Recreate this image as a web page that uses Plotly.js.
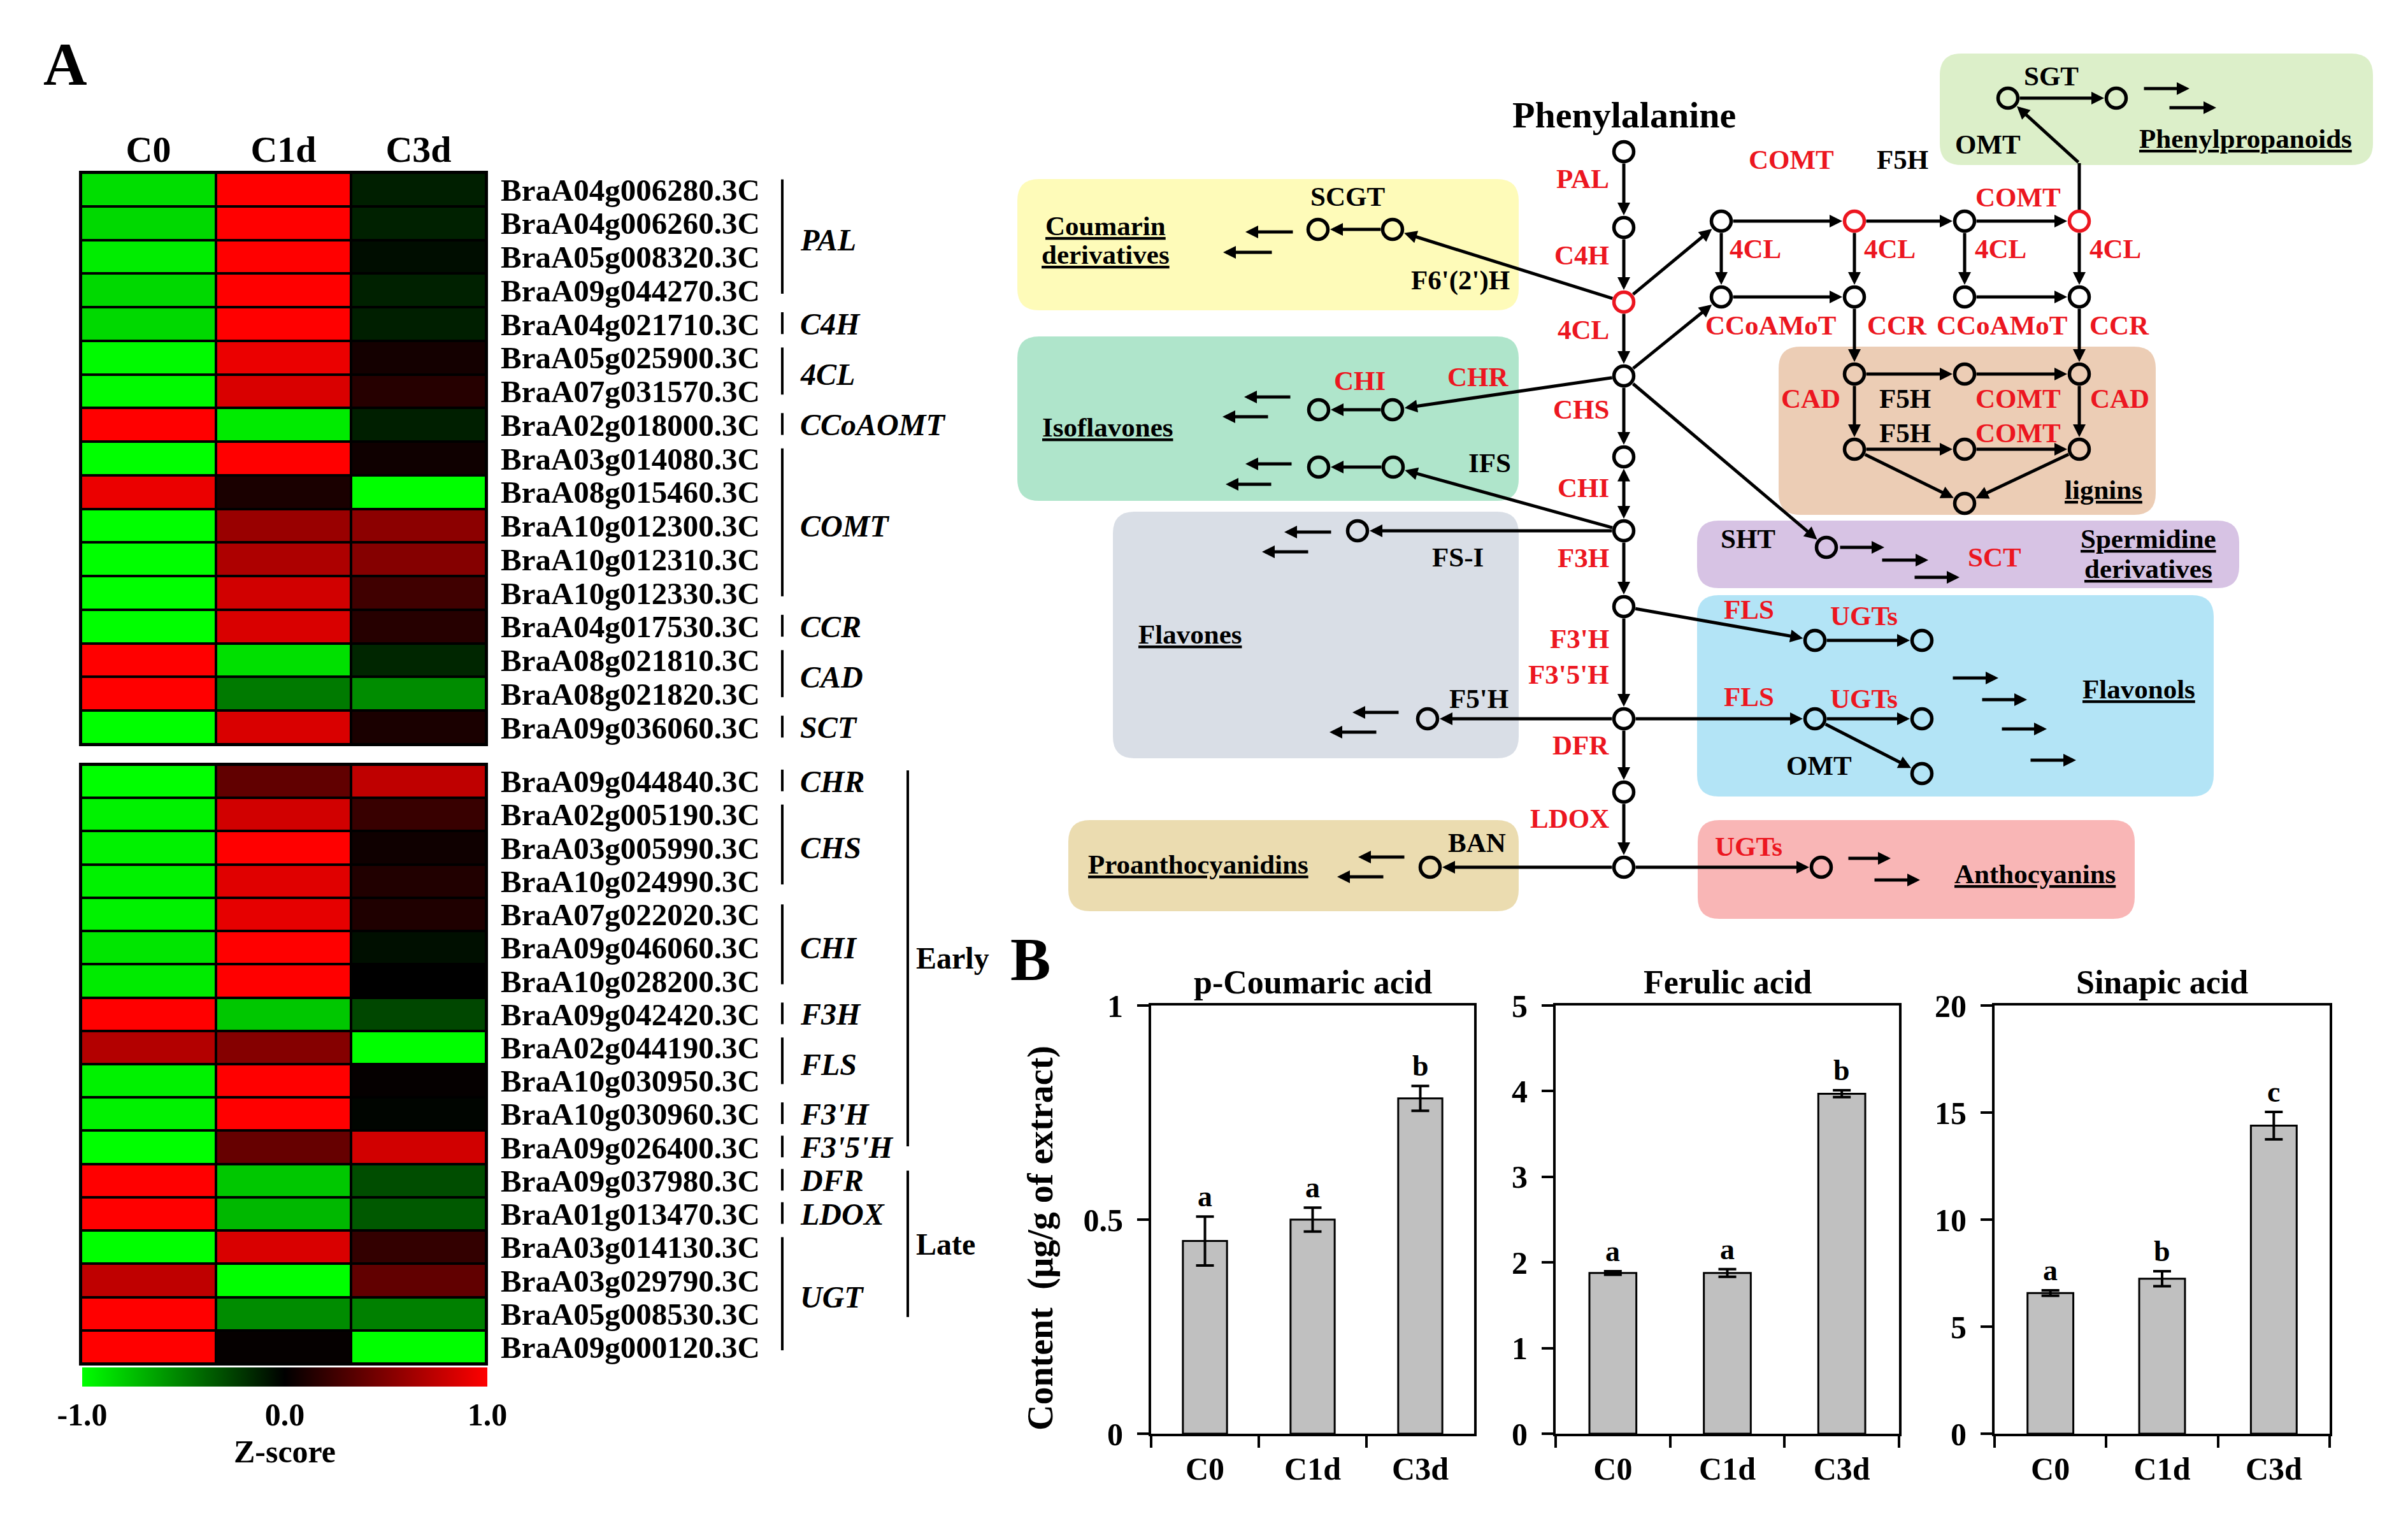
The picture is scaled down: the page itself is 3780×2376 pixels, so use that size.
<!DOCTYPE html>
<html><head><meta charset="utf-8">
<script src="https://cdn.plot.ly/plotly-3.0.1.min.js"></script>
<style>html,body{margin:0;padding:0;background:#fff}#chart{width:3780px;height:2376px}</style>
</head><body><div id="chart"></div>
<script>
// ---------------- DATA ----------------
const heatColumns = ['C0', 'C1d', 'C3d'];
const genesTop = ['BraA04g006280.3C','BraA04g006260.3C','BraA05g008320.3C','BraA09g044270.3C','BraA04g021710.3C','BraA05g025900.3C','BraA07g031570.3C','BraA02g018000.3C','BraA03g014080.3C','BraA08g015460.3C','BraA10g012300.3C','BraA10g012310.3C','BraA10g012330.3C','BraA04g017530.3C','BraA08g021810.3C','BraA08g021820.3C','BraA09g036060.3C'];
const zTop = [
  [-0.87, 1.0, -0.12], [-0.85, 1.0, -0.13], [-0.93, 1.0, -0.05], [-0.85, 1.0, -0.13],
  [-0.85, 1.0, -0.12], [-0.98, 0.92, 0.08], [-0.98, 0.85, 0.15], [1.0, -0.92, -0.12],
  [-1.0, 1.0, 0.06], [0.92, 0.1, -1.0], [-1.0, 0.6, 0.55], [-1.0, 0.68, 0.52],
  [-1.0, 0.82, 0.25], [-1.0, 0.85, 0.15], [1.0, -0.88, -0.15], [1.0, -0.48, -0.55],
  [-1.0, 0.85, 0.1]
];
const genesBottom = ['BraA09g044840.3C','BraA02g005190.3C','BraA03g005990.3C','BraA10g024990.3C','BraA07g022020.3C','BraA09g046060.3C','BraA10g028200.3C','BraA09g042420.3C','BraA02g044190.3C','BraA10g030950.3C','BraA10g030960.3C','BraA09g026400.3C','BraA09g037980.3C','BraA01g013470.3C','BraA03g014130.3C','BraA03g029790.3C','BraA05g008530.3C','BraA09g000120.3C'];
const zBottom = [
  [-1.0, 0.38, 0.75], [-0.95, 0.82, 0.22], [-0.95, 1.0, 0.06], [-0.95, 0.88, 0.13],
  [-0.95, 0.9, 0.12], [-0.9, 1.0, -0.06], [-0.92, 1.0, 0.0], [1.0, -0.78, -0.28],
  [0.7, 0.52, -1.0], [-0.95, 1.0, 0.02], [-0.95, 1.0, -0.02], [-1.0, 0.4, 0.82],
  [1.0, -0.78, -0.3], [1.0, -0.72, -0.35], [-1.0, 0.85, 0.2], [0.75, -1.0, 0.38],
  [1.0, -0.55, -0.5], [1.0, 0.02, -1.0]
];
const groupNamesTop = ['PAL','C4H','4CL','CCoAOMT','COMT','CCR','CAD','SCT'];
const groupSizesTop = [4,1,2,1,5,1,2,1];
const groupNamesBottom = ['CHR','CHS','CHI','F3H','FLS',"F3'H","F3'5'H",'DFR','LDOX','UGT'];
const groupSizesBottom = [1,3,3,1,2,1,1,1,1,4];
const stageNames = ['Early','Late'];
const stageSpans = [[-0.33, 10.97],[11.7, 16.1]];
const zTickVals = [-1, 0, 1];
const zTickText = ['-1.0', '0.0', '1.0'];

const barCats = ['C0','C1d','C3d'];
const coumaric = [0.45, 0.50, 0.783];
const coumaricErr = [0.057, 0.028, 0.029];
const coumaricSig = ['a','a','b'];
const ferulic = [1.877, 1.877, 3.97];
const ferulicErr = [0.02, 0.045, 0.04];
const ferulicSig = ['a','a','b'];
const sinapic = [6.57, 7.24, 14.39];
const sinapicErr = [0.13, 0.35, 0.64];
const sinapicSig = ['a','b','c'];
const barTitles = ['p-Coumaric acid','Ferulic acid','Sinapic acid'];

// ---------------- DIAGRAM (schematic, pixel space) ----------------
const nodeNames=['m1','m2','m3','m4','m5','m6','m7','m8','m9','m10','gA1','gA2','gA3','gA4','gB1','gB2','gB3','gB4','l1','l2','l3','l4','l5','l6','l7','pp1','pp2','sht','fo1','fo2','fo3','fo4','fo5','an1','pa1','co1','co2','if1','if2','if3','if4','fv1','fv2'];
const nodeX=[2549,2549,2549,2549,2549,2549,2549,2549,2549,2549,2702,2911,3084,3264,2702,2911,3084,3264,2911,3084,3264,2911,3084,3264,3084,3152,3322,2867,2849,3017,2849,3017,3017,2859,2245,2069,2186,2070,2186,2070,2187,2131,2241];
const nodeY=[238,357,474,590,717,833,952,1128,1243,1361,347,347,347,347,466,466,466,466,587,587,587,705,705,705,790,154,154,859,1005,1005,1128,1128,1214,1361,1361,360,360,643,643,733,733,833,1128];
const redNodes=['m3','gA2','gA4'];
const edges=[['m1','m2'],['m2','m3'],['m3','m4'],['m4','m5'],['m5','m6','both'],['m6','m7'],['m7','m8'],['m8','m9'],['m9','m10'],
['m3','gA1'],['m4','gB1'],['gA1','gA2'],['gA2','gA3'],['gA3','gA4'],['gB1','gB2'],['gB3','gB4'],
['gA1','gB1'],['gA2','gB2'],['gA3','gB3'],['gA4','gB4'],
['gB2','l1'],['l1','l4'],['gB4','l3'],['l3','l6'],['l1','l2'],['l2','l3'],['l4','l5'],['l5','l6'],['l4','l7'],['l6','l7'],
['m4','sht'],['m3','co2'],['co2','co1'],['m4','if2'],['if2','if1'],['m6','if4'],['if4','if3'],['m6','fv1'],['m8','fv2'],
['m10','pa1'],['m10','an1'],['m7','fo1'],['fo1','fo2'],['m8','fo3'],['fo3','fo4'],['fo3','fo5'],['pp1','pp2']];
const freeArrows=[[2031,364,1955,364],[1998,396,1920,396],[2027,623,1953,623],[1992,654,1919,654],[2029,728,1955,728],[1997,760,1924,760],
[2091,835,2016,835],[2055,866,1981,866],[2197,1118,2123,1118],[2162,1149,2087,1149],[2206,1345,2132,1345],[2173,1376,2099,1376],
[3364,139,3437,139],[3404,169,3479,169],[2887,859,2958,859],[2953,879,3027,879],[3004,906,3076,906],
[3064,1064,3137,1064],[3110,1098,3182,1098],[3141,1144,3213,1144],[3186,1193,3259,1193],[2900,1347,2968,1347],[2941,1381,3014,1381]];
const boxes=[[1597,281,2384,487,'#fefbb9'],[1597,528,2384,786,'#afe5cb'],[1747,803,2384,1190,'#d9dee6'],[1677,1287,2384,1430,'#ebdcb0'],
[3045,84,3725,259,'#dcefc9'],[2792,544,3384,808,'#eccdb5'],[2664,817,3515,923,'#d7c3e4'],[2664,934,3475,1250,'#b3e4f6'],[2665,1287,3351,1442,'#f9b6b6']];
// [text, x, y, kind]  kind: k=black, r=red, rr=red right-aligned, u=underlined
const labels=[['Phenylalanine',2549,180,'big'],['SCGT',2115,308,'k'],["F6'(2')H",2292,440,'k'],['IFS',2338,726,'k'],['FS-I',2288,874,'k'],["F5'H",2321,1096,'k'],['BAN',2318,1322,'k'],
['SGT',3220,119,'k'],['OMT',3120,226,'k'],['F5H',2986,250,'k'],['F5H',2990,625,'k'],['F5H',2990,679,'k'],['SHT',2744,845,'k'],['OMT',2855,1201,'k'],
['PAL',2528,280,'rr'],['C4H',2528,400,'rr'],['4CL',2528,517,'rr'],['CHS',2528,642,'rr'],['CHI',2528,765,'rr'],['F3H',2528,875,'rr'],["F3'H",2528,1002,'rr'],["F3'5'H",2528,1058,'rr'],['DFR',2528,1169,'rr'],['LDOX',2528,1284,'rr'],
['CHI',2134,597,'r'],['CHR',2320,591,'r'],['COMT',2812,250,'r'],['COMT',3168,309,'r'],['4CL',2755,390,'r'],['4CL',2966,390,'r'],['4CL',3140,390,'r'],['4CL',3320,390,'r'],
['CCoAMoT',2780,510,'r'],['CCR',2978,510,'r'],['CCoAMoT',3143,510,'r'],['CCR',3327,510,'r'],['CAD',2842,625,'r'],['COMT',3168,625,'r'],['CAD',3327,625,'r'],['COMT',3168,679,'r'],
['SCT',3131,874,'r'],['FLS',2745,956,'r'],['UGTs',2926,966,'r'],['FLS',2745,1093,'r'],['UGTs',2926,1096,'r'],['UGTs',2745,1328,'r'],
['Coumarin',1735,354,'u'],['derivatives',1735,399,'u'],['Isoflavones',1738,670,'u'],['Flavones',1868,995,'u'],['Proanthocyanidins',1881,1356,'u'],
['Phenylpropanoids',3525,217,'u'],['lignins',3302,768,'u'],['Spermidine',3372,845,'u'],['derivatives',3372,892,'u'],['Flavonols',3357,1081,'u'],['Anthocyanins',3194,1371,'u']];

// ---------------- BUILD ----------------
const W=3780, H=2376, F='Liberation Serif', RED='rgb(236,22,32)';
const px = v => v / W, py = v => 1 - v / H;
const traces = [];
const shapes = [];
const annotations = [];
const cs = [[0,'rgb(0,255,0)'],[0.5,'rgb(0,0,0)'],[1,'rgb(255,0,0)']];
const idxTop = genesTop.map((g,i)=>i), idxBot = genesBottom.map((g,i)=>i);

traces.push({type:'heatmap', z:zTop, x:heatColumns, y:idxTop, xaxis:'x', yaxis:'y', colorscale:cs, zmin:-1, zmax:1, xgap:4, ygap:4, hoverinfo:'skip',
  showscale:true, colorbar:{orientation:'h', x:px(447), xanchor:'center', y:py(2146), yanchor:'top', len:636/W, lenmode:'fraction', thickness:30, outlinewidth:0,
  tickvals:zTickVals, ticktext:zTickText, ticks:'', tickfont:{family:F,size:50,color:'black',weight:'bold'},
  title:{text:'Z-score', side:'bottom', font:{family:F,size:50,color:'black',weight:'bold'}}, xpad:0, ypad:0}});
traces.push({type:'heatmap', z:zBottom, x:heatColumns, y:idxBot, xaxis:'x', yaxis:'y2', colorscale:cs, zmin:-1, zmax:1, xgap:4, ygap:4, showscale:false, hoverinfo:'skip'});

// black frames behind heatmaps
shapes.push({type:'rect', xref:'paper', yref:'paper', x0:px(124), x1:px(766), y0:py(1171), y1:py(268), fillcolor:'black', line:{width:0}, layer:'below'});
shapes.push({type:'rect', xref:'paper', yref:'paper', x0:px(124), x1:px(766), y0:py(2143), y1:py(1197), fillcolor:'black', line:{width:0}, layer:'below'});

function groupMarks(names, sizes, yref){
  let s = 0;
  names.forEach((n,i)=>{
    const e = s + sizes[i] - 1;
    const y0 = sizes[i] > 1 ? s - 0.3 : s - 0.35;
    const y1 = sizes[i] > 1 ? e + 0.1 : e + 0.3;
    shapes.push({type:'line', xref:'paper', yref:yref, x0:px(1228), x1:px(1228), y0:y0, y1:y1, line:{color:'black', width:4}});
    annotations.push({text:n, xref:'paper', yref:yref, x:px(1254), y:(s+e)/2, xanchor:'left', yanchor:'middle', showarrow:false,
      font:{family:F, size:48, color:'black', weight:'bold', style:'italic'}});
    s = e + 1;
  });
}
groupMarks(groupNamesTop, groupSizesTop, 'y');
groupMarks(groupNamesBottom, groupSizesBottom, 'y2');
stageNames.forEach((n,i)=>{
  shapes.push({type:'line', xref:'paper', yref:'y2', x0:px(1425), x1:px(1425), y0:stageSpans[i][0], y1:stageSpans[i][1], line:{color:'black', width:4}});
  annotations.push({text:n, xref:'paper', yref:'y2', x:px(1436), y:(stageSpans[i][0]+stageSpans[i][1])/2, xanchor:'left', yanchor:'middle', showarrow:false,
    font:{family:F, size:48, color:'black', weight:'bold'}});
});

// bar charts
const barSets = [[coumaric, coumaricErr, coumaricSig],[ferulic, ferulicErr, ferulicSig],[sinapic, sinapicErr, sinapicSig]];
barSets.forEach((b,i)=>{
  const ax = 'x'+(i+3), ay = 'y'+(i+3);
  traces.push({type:'bar', x:barCats, y:b[0], xaxis:ax, yaxis:ay, width:0.41, hoverinfo:'skip',
    marker:{color:'#c0c0c0', line:{color:'black', width:3}},
    error_y:{type:'data', array:b[1], visible:true, color:'black', thickness:4, width:14}});
  barCats.forEach((c,j)=>{
    annotations.push({text:b[2][j], xref:ax, yref:ay, x:c, y:b[0][j]+b[1][j], yanchor:'bottom', yshift:4, showarrow:false,
      font:{family:F, size:46, color:'black', weight:'bold'}});
  });
  annotations.push({text:barTitles[i], xref:ax+' domain', yref:'paper', x:0.5, y:py(1541), xanchor:'center', yanchor:'middle', showarrow:false,
    font:{family:F, size:52, color:'black', weight:'bold'}});
});

// diagram
const nx = n => nodeX[nodeNames.indexOf(n)], ny = n => nodeY[nodeNames.indexOf(n)];
boxes.forEach(b=>{
  const [x0,y0,x1,y1,c] = b, r = 34;
  shapes.push({type:'path', xref:'x6', yref:'y6', layer:'below', fillcolor:c, line:{width:0},
    path:`M${x0+r},${y0} L${x1-r},${y0} Q${x1},${y0} ${x1},${y0+r} L${x1},${y1-r} Q${x1},${y1} ${x1-r},${y1} L${x0+r},${y1} Q${x0},${y1} ${x0},${y1-r} L${x0},${y0+r} Q${x0},${y0} ${x0+r},${y0} Z`});
});
function arrow(x0,y0,x1,y1,ss,so,both){
  return {x:x1, y:y1, ax:x0, ay:y0, xref:'x6', yref:'y6', axref:'x6', ayref:'y6', text:'', showarrow:true,
    arrowhead:2, arrowsize:0.8, arrowwidth:5, arrowcolor:'black', standoff:so, startstandoff:ss,
    arrowside: both ? 'end+start' : 'end', startarrowhead:2, startarrowsize:0.8};
}
edges.forEach(e=>{
  annotations.push(arrow(nx(e[0]), ny(e[0]), nx(e[1]), ny(e[1]), 17, 19, e[2]==='both'));
});
freeArrows.forEach(a=>annotations.push(arrow(a[0],a[1],a[2],a[3],0,0,false)));
// OMT connector from red node up to phenylpropanoid node
shapes.push({type:'line', xref:'x6', yref:'y6', x0:nx('gA4'), x1:nx('gA4'), y0:ny('gA4')-18, y1:256, line:{color:'black', width:5}});
annotations.push(arrow(nx('gA4'), 256, nx('pp1'), ny('pp1'), 0, 19, false));

traces.push({type:'scatter', mode:'markers', x:nodeX, y:nodeY, xaxis:'x6', yaxis:'y6', hoverinfo:'skip', cliponaxis:false,
  marker:{symbol:'circle-open', size:31, color:nodeNames.map(n=>redNodes.includes(n)?RED:'black'), line:{width:5.5}}});

labels.forEach(l=>{
  const [t,x,y,k] = l;
  annotations.push({text:t, x:x, y:y, xref:'x6', yref:'y6', showarrow:false, yanchor:'middle',
    xanchor: k==='rr' ? 'right' : 'center',
    font:{family:F, size: k==='big' ? 58 : 43, color: (k==='r'||k==='rr') ? RED : 'black', weight:'bold', lineposition: k==='u' ? 'under' : 'none'}});
});

// panel letters and y title
annotations.push({text:'A', x:102, y:101, xref:'x6', yref:'y6', showarrow:false, font:{family:F, size:95, color:'black', weight:'bold'}});
annotations.push({text:'B', x:1617, y:1506, xref:'x6', yref:'y6', showarrow:false, font:{family:F, size:95, color:'black', weight:'bold'}});
annotations.push({text:'Content  (\u03bcg/g of extract)', x:1633, y:1943, xref:'x6', yref:'y6', showarrow:false, textangle:-90,
  font:{family:F, size:56, color:'black', weight:'bold'}});

// ---------------- LAYOUT ----------------
const tf = s => ({family:F, size:s, color:'black', weight:'bold'});
const barX = (d) => ({domain:d, type:'category', tickson:'boundaries', ticks:'outside', ticklen:18, tickwidth:4, tickcolor:'black',
  showline:true, linewidth:4, linecolor:'black', mirror:true, showgrid:false, zeroline:false, tickfont:tf(50), ticklabelstandoff:8, fixedrange:true});
const barY = (anchor, range, vals, text) => ({domain:[py(2250), py(1578)], anchor:anchor, range:range, tickvals:vals, ticktext:text,
  ticks:'outside', ticklen:18, tickwidth:4, tickcolor:'black', showline:true, linewidth:4, linecolor:'black', mirror:true,
  showgrid:false, zeroline:false, tickfont:tf(50), ticklabelstandoff:12, fixedrange:true});

const layout = {
  width:W, height:H, margin:{l:0, r:0, t:0, b:0}, paper_bgcolor:'white', plot_bgcolor:'rgba(0,0,0,0)', showlegend:false,
  font:{family:F, color:'black'},
  xaxis:{domain:[px(127), px(763)], anchor:'y', side:'top', type:'category', ticks:'', showline:false, showgrid:false, zeroline:false,
    tickfont:tf(58), ticklabelstandoff:4, fixedrange:true},
  yaxis:{domain:[py(1168), py(271)], anchor:'x', range:[16.5,-0.5], side:'right', tickvals:idxTop, ticktext:genesTop, ticks:'',
    showline:false, showgrid:false, zeroline:false, tickfont:tf(49), ticklabelstandoff:22, fixedrange:true},
  yaxis2:{domain:[py(2140), py(1200)], anchor:'x', range:[17.5,-0.5], side:'right', tickvals:idxBot, ticktext:genesBottom, ticks:'',
    showline:false, showgrid:false, zeroline:false, tickfont:tf(49), ticklabelstandoff:22, fixedrange:true},
  xaxis3:Object.assign(barX([px(1807), px(2314)]), {anchor:'y3'}),
  yaxis3:barY('x3', [0,1], [0,0.5,1], ['0','0.5','1']),
  xaxis4:Object.assign(barX([px(2442), px(2981)]), {anchor:'y4'}),
  yaxis4:barY('x4', [0,5], [0,1,2,3,4,5], ['0','1','2','3','4','5']),
  xaxis5:Object.assign(barX([px(3131), px(3657)]), {anchor:'y5'}),
  yaxis5:barY('x5', [0,20], [0,5,10,15,20], ['0','5','10','15','20']),
  xaxis6:{domain:[0,1], anchor:'y6', range:[0,W], visible:false, fixedrange:true},
  yaxis6:{domain:[0,1], anchor:'x6', range:[H,0], visible:false, fixedrange:true},
  shapes:shapes, annotations:annotations
};
Plotly.newPlot('chart', traces, layout, {staticPlot:true, responsive:false});
</script>
</body></html>
